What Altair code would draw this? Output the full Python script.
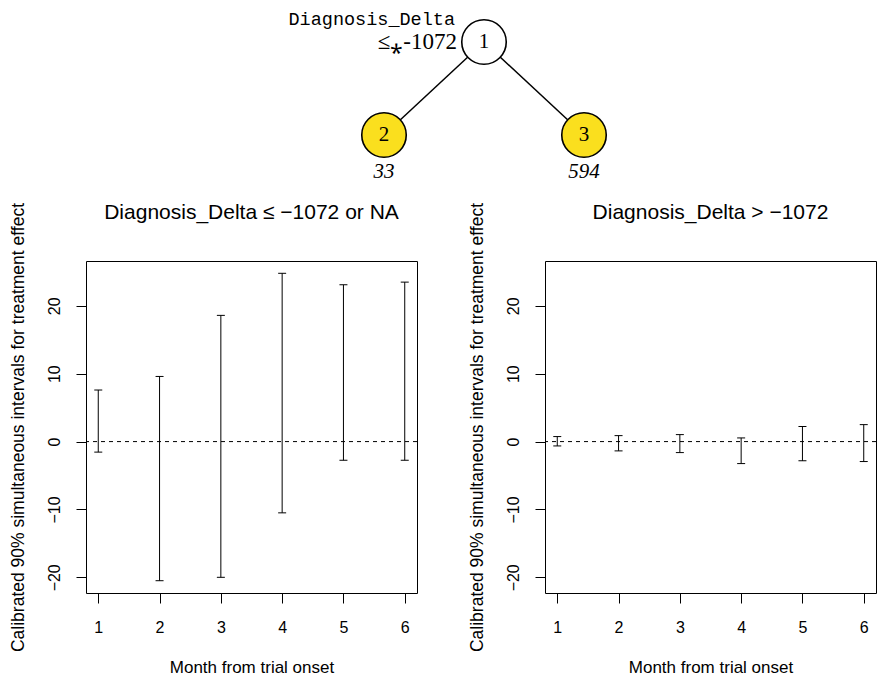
import altair as alt
import pandas as pd

# ---------------- data ----------------
months = [1, 2, 3, 4, 5, 6]
left_lower = [-1.55, -20.5, -20.0, -10.5, -2.75, -2.75]
left_upper = [7.6, 9.6, 18.6, 24.8, 23.1, 23.5]
right_lower = [-0.64, -1.37, -1.62, -3.24, -2.84, -2.94]
right_upper = [0.74, 0.88, 1.03, 0.54, 2.21, 2.50]
y_tick_values = [-20, -10, 0, 10, 20]
x_tick_values = [1, 2, 3, 4, 5, 6]
reference_value = [0]
panel_titles = ["Diagnosis_Delta \u2264 \u22121072 or NA", "Diagnosis_Delta > \u22121072"]
x_title = "Month from trial onset"
y_title = "Calibrated 90% simultaneous intervals for treatment effect"

node_ids = [1, 2, 3]
node_parents = [None, 1, 1]
node_counts = [None, 33, 594]
split_variable = "Diagnosis_Delta"
split_rule = "\u2264\u204e-1072"

# ---------------- tree layout (from structure) ----------------
children = {i: [] for i in node_ids}
for i, p in zip(node_ids, node_parents):
    if p is not None:
        children[p].append(i)
root = node_ids[node_parents.index(None)]
depth = {}


def set_depth(n, d):
    depth[n] = d
    for c in children[n]:
        set_depth(c, d + 1)


set_depth(root, 0)
pos = {}
leaf_counter = [0]


def layout(n):
    if not children[n]:
        pos[n] = leaf_counter[0]
        leaf_counter[0] += 1
    else:
        for c in children[n]:
            layout(c)
        pos[n] = sum(pos[c] for c in children[n]) / len(children[n])


layout(root)

nodes_df = pd.DataFrame({
    "id": node_ids,
    "x": [pos[i] for i in node_ids],
    "depth": [depth[i] for i in node_ids],
    "kind": ["terminal" if not children[i] else "inner" for i in node_ids],
    "label": [str(i) for i in node_ids],
    "count": ["" if c is None else str(c) for c in node_counts],
})
edges_df = pd.DataFrame({
    "x": [pos[p] for i, p in zip(node_ids, node_parents) if p is not None],
    "depth": [depth[p] for i, p in zip(node_ids, node_parents) if p is not None],
    "x2": [pos[i] for i, p in zip(node_ids, node_parents) if p is not None],
    "depth2": [depth[i] for i, p in zip(node_ids, node_parents) if p is not None],
})
root_df = pd.DataFrame({
    "x": [pos[root]], "depth": [depth[root]],
    "var": [split_variable], "rule": [split_rule],
})

PANEL_W = 331
PANEL_H = 332
GAP = 128
TREE_W = 2 * PANEL_W + GAP

tx = alt.Scale(domain=[-1.49, -1.49 + TREE_W / 200.0], nice=False, zero=False)
ty = alt.Scale(domain=[-0.355, 1.581], nice=False, zero=False, reverse=True)
X = alt.X("x:Q", scale=tx, axis=None)
Y = alt.Y("depth:Q", scale=ty, axis=None)

edges = alt.Chart(edges_df).mark_rule(color="black", strokeWidth=1.5).encode(
    x=X, y=Y, x2="x2:Q", y2="depth2:Q")
circles = alt.Chart(nodes_df).mark_point(
    shape="circle", filled=True, size=1980, stroke="black", strokeWidth=1.6, opacity=1
).encode(
    x=X, y=Y,
    fill=alt.Fill("kind:N", scale=alt.Scale(domain=["inner", "terminal"], range=["white", "#FADF1E"]), legend=None),
)
node_text = alt.Chart(nodes_df).mark_text(
    font="Liberation Serif", fontSize=21, baseline="middle", color="black"
).encode(x=X, y=Y, text="label:N")
count_text = alt.Chart(nodes_df).transform_filter(alt.datum.kind == "terminal").mark_text(
    font="Liberation Serif", fontSize=21, fontStyle="italic", baseline="middle", dy=37, color="black"
).encode(x=X, y=Y, text="count:N")
var_text = alt.Chart(root_df).mark_text(
    font="Liberation Mono", fontSize=18.5, align="right", baseline="middle", dx=-29, dy=-23.5,
    color="black"
).encode(x=X, y=Y, text="var:N")
rule_text = alt.Chart(root_df).mark_text(
    font="Liberation Serif", fontSize=23, align="right", baseline="middle", dx=-27, color="black"
).encode(x=X, y=Y, text="rule:N")

tree = alt.layer(edges, circles, node_text, count_text, var_text, rule_text).properties(
    width=TREE_W, height=180, view=alt.ViewBackground(stroke="transparent"))

# ---------------- panels ----------------
all_vals = left_lower + left_upper + right_lower + right_upper
ymin, ymax = min(all_vals), max(all_vals)
ypad = 0.04 * (ymax - ymin)
ydom = [ymin - ypad, ymax + ypad]
xpad = 0.04 * (max(months) - min(months))
xdom = [min(months) - xpad, max(months) + xpad]


def panel(lower, upper, title):
    df = pd.DataFrame({"month": months, "lower": lower, "upper": upper})
    xs = alt.Scale(domain=xdom, nice=False, zero=False)
    ys = alt.Scale(domain=ydom, nice=False, zero=False)
    xaxis = alt.Axis(values=x_tick_values, title=x_title, labelAngle=0, labelPadding=16,
                     titlePadding=24, format="d")
    yaxis = alt.Axis(values=y_tick_values, title=y_title, labelAngle=270, labelAlign="center",
                     labelBaseline="bottom", labelPadding=14, titlePadding=19, format="d",
                     titleFontSize=17.5)
    ref = alt.Chart(pd.DataFrame({"v": reference_value})).mark_rule(
        color="black", strokeWidth=1, strokeDash=[4, 4]
    ).encode(y=alt.Y("v:Q", scale=ys, axis=yaxis))
    bars = alt.Chart(df).mark_rule(color="black", strokeWidth=1).encode(
        x=alt.X("month:Q", scale=xs, axis=xaxis),
        y=alt.Y("lower:Q", scale=ys, axis=yaxis), y2="upper:Q")
    cap_lo = alt.Chart(df).mark_tick(orient="horizontal", size=8, thickness=1, color="black", opacity=1).encode(
        x=alt.X("month:Q", scale=xs, axis=xaxis), y=alt.Y("lower:Q", scale=ys, axis=yaxis))
    cap_hi = alt.Chart(df).mark_tick(orient="horizontal", size=8, thickness=1, color="black", opacity=1).encode(
        x=alt.X("month:Q", scale=xs, axis=xaxis), y=alt.Y("upper:Q", scale=ys, axis=yaxis))
    return alt.layer(ref, bars, cap_lo, cap_hi).properties(
        width=PANEL_W, height=PANEL_H,
        title=alt.TitleParams(text=title, font="Liberation Sans", fontSize=21, fontWeight="normal",
                              anchor="middle", baseline="alphabetic", offset=-38, color="black",
                              frame="group"),
    )


p1 = panel(left_lower, left_upper, panel_titles[0])
p2 = panel(right_lower, right_upper, panel_titles[1])

chart = alt.vconcat(
    tree,
    alt.hconcat(p1, p2, spacing=GAP, bounds="flush"),
    spacing=72, bounds="flush",
).properties(
    padding=0
).configure_view(
    stroke="black", strokeWidth=1
).configure_axis(
    labelFont="Liberation Sans", titleFont="Liberation Sans", labelColor="black", titleColor="black",
    tickColor="black", tickSize=10, tickWidth=1, domain=False, grid=False,
    labelFontSize=16, titleFontSize=17, titleFontWeight="normal",
)

chart.save("out.html", embed_options={"renderer": "svg", "actions": False})
